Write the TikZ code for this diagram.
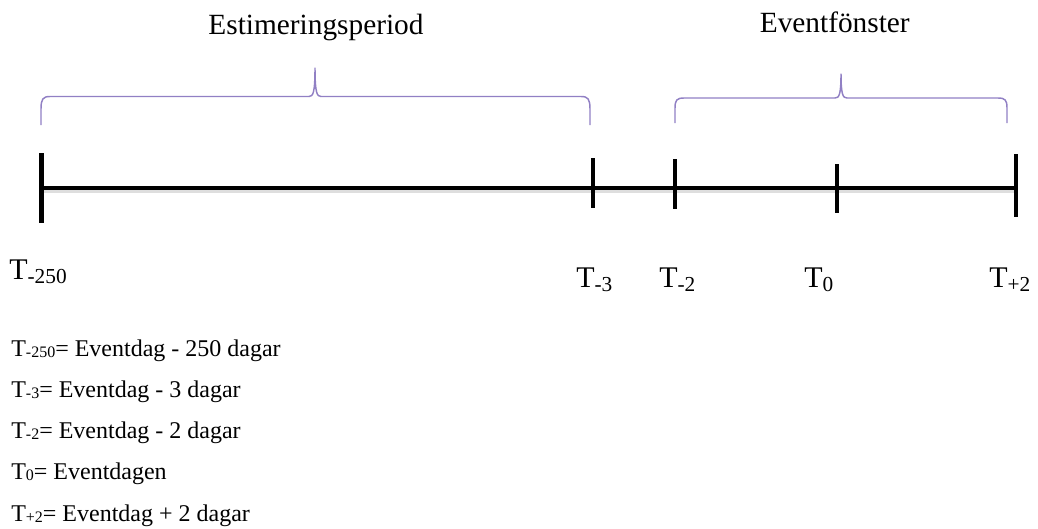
\documentclass[tikz,border=0pt]{standalone}
\usepackage{fontspec}
\setmainfont{Liberation Serif}
\usetikzlibrary{calc}
\definecolor{bracecol}{RGB}{145,128,196}
\definecolor{shadowcol}{RGB}{200,200,200}
\newcommand{\Tsub}[1]{T\raisebox{-3.6pt}{\fontsize{16}{18}\selectfont #1}}
\newcommand{\Lsub}[1]{T\raisebox{-0.8pt}{\fontsize{12}{14}\selectfont #1}}
\begin{document}
\begin{tikzpicture}[x=0.75pt,y=-0.75pt,
  axisline/.style={line width=3pt,black},
  shadowline/.style={line width=3pt,shadowcol,opacity=0.6},
  tickline/.style={line width=3.4pt,black},
  bracepath/.style={draw=bracecol,line width=1.1pt,line join=round},
  ttl/.style={font=\fontsize{22}{26}\selectfont,inner sep=0},
  tlabel/.style={anchor=base west,font=\fontsize{22.5}{26}\selectfont,inner sep=0},
  legtext/.style={anchor=base west,font=\fontsize{18}{22}\selectfont,inner sep=0}]
\useasboundingbox (0,0) rectangle (1038,528);
% titles
\node[ttl,anchor=base] (est) at (316,35) {Estimeringsperiod};
\node[ttl,anchor=base east] (evf) at (910,33) {Eventfönster};
% braces
\draw[bracepath] (41,125) -- (41,109) .. controls (41,99) and (43,96.5) .. (50,96.5)
  -- (309,96.5) .. controls (313,96.5) and (315,93) .. (315,68)
  .. controls (315,93) and (317,96.5) .. (321,96.5)
  -- (581,96.5) .. controls (588,96.5) and (590,99) .. (590,109) -- (590,125);
\draw[bracepath] (675,123) -- (675,108) .. controls (675,100) and (677,98) .. (684,98)
  -- (835,98) .. controls (839,98) and (841,95) .. (841,74)
  .. controls (841,95) and (843,98) .. (847,98)
  -- (998,98) .. controls (1005,98) and (1007,100) .. (1007,108) -- (1007,123);
% axis points
\coordinate (m250) at (41.5,187.5);
\coordinate (m3) at (593,187.5);
\coordinate (m2) at (675,187.5);
\coordinate (m0) at (837,187.5);
\coordinate (mp2) at (1016,187.5);
\draw[shadowline] ($(m250)+(2,3)$) -- ($(mp2)+(0,3)$);
\draw[axisline] (m250) -- (mp2);
% ticks
\draw[tickline] ($(m250)+(0,-34.5)$) -- ($(m250)+(0,35.5)$);
\draw[tickline] ($(m3)+(0,-29.5)$) -- ($(m3)+(0,20.5)$);
\draw[tickline] ($(m2)+(0,-28.5)$) -- ($(m2)+(0,21.5)$);
\draw[tickline] ($(m0)+(0,-23.5)$) -- ($(m0)+(0,25.5)$);
\draw[tickline] ($(mp2)+(0,-33.5)$) -- ($(mp2)+(0,29.5)$);
% tick labels
\node[tlabel] (l250) at (9,279) {\Tsub{-250}};
\node[tlabel] (l3) at (576,287) {\Tsub{-3}};
\node[tlabel] (l2) at (659,287) {\Tsub{-2}};
\node[tlabel] (l0) at (804,287) {\Tsub{0}};
\node[tlabel] (lp2) at (989,287) {\Tsub{+2}};
% legend
\node[legtext] (k1) at (11,356) {\Lsub{-250}= Eventdag - 250 dagar};
\node[legtext] (k2) at (11,397.3) {\Lsub{-3}= Eventdag - 3 dagar};
\node[legtext] (k3) at (11,438.6) {\Lsub{-2}= Eventdag - 2 dagar};
\node[legtext] (k4) at (11,479.9) {\Lsub{0}= Eventdagen};
\node[legtext] (k5) at (11,521.2) {\Lsub{+2}= Eventdag + 2 dagar};
\end{tikzpicture}
\end{document}
